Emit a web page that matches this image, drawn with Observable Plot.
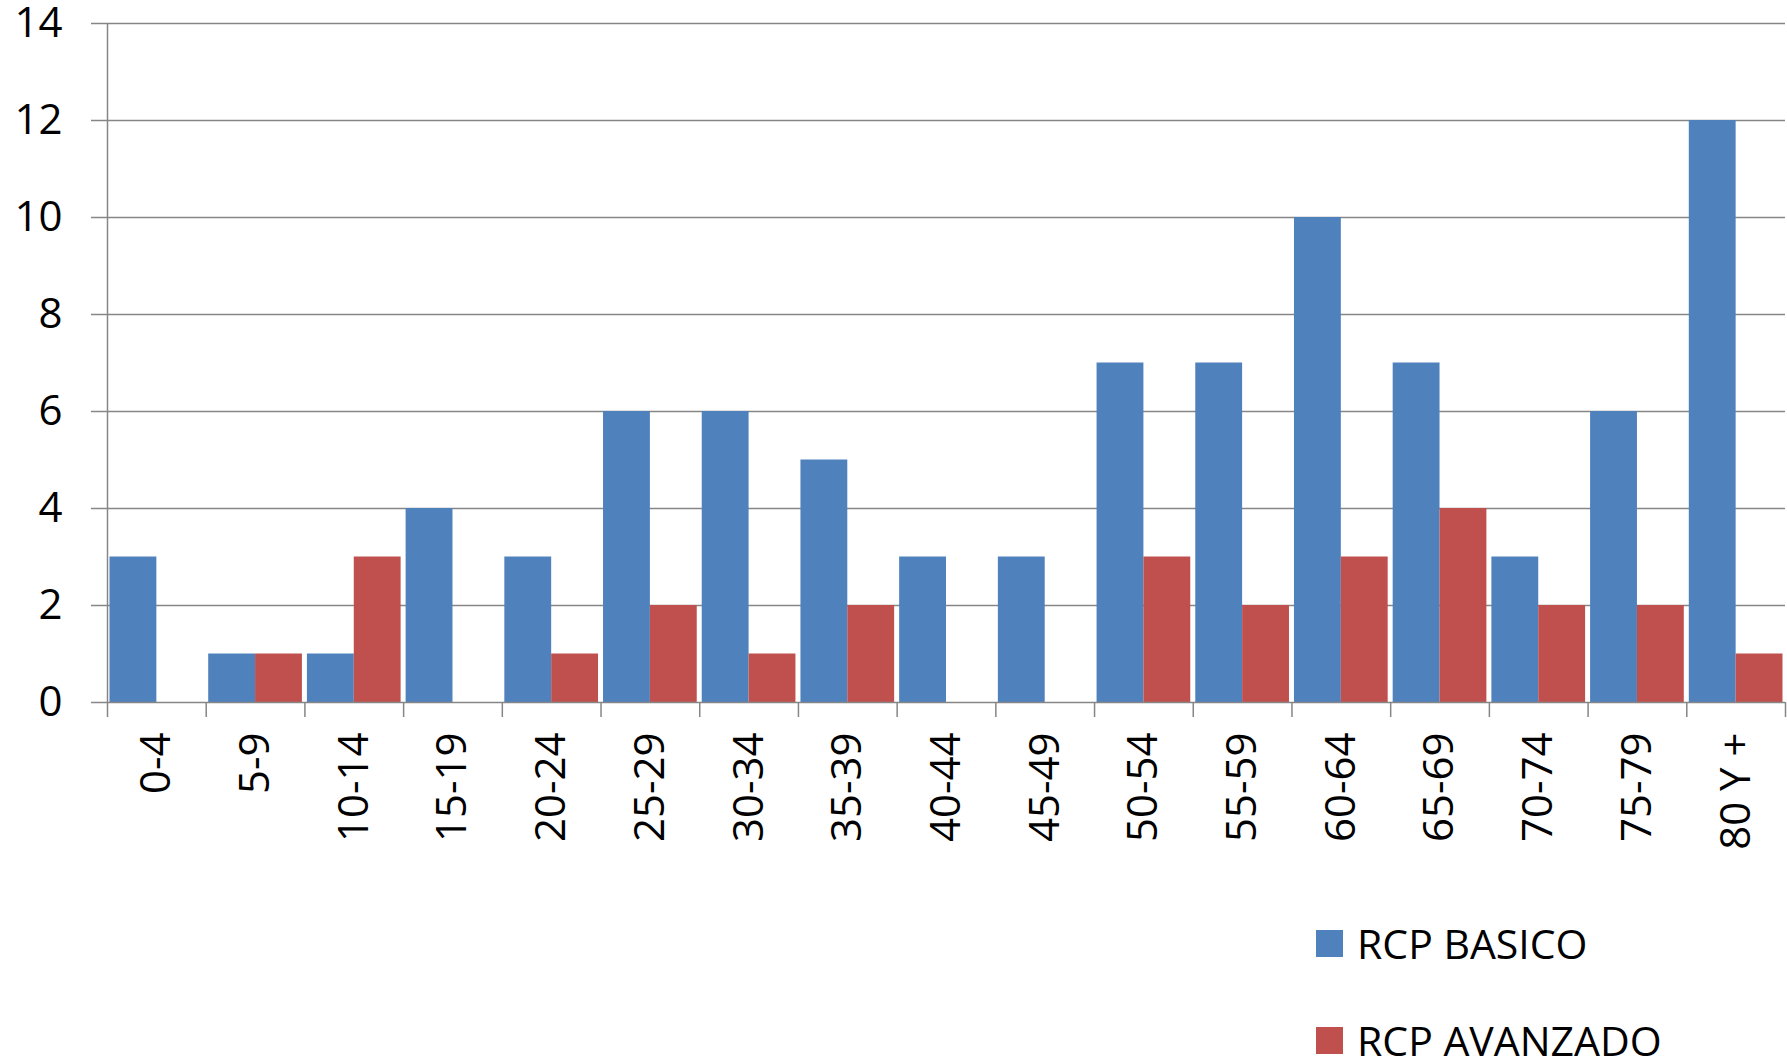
<!DOCTYPE html>
<html><head><meta charset="utf-8">
<script src="https://cdn.jsdelivr.net/npm/d3@7"></script>
<script src="https://cdn.jsdelivr.net/npm/@observablehq/plot@0.6"></script>
<style>
body{margin:0;background:#fff;font-family:"Open Sans",sans-serif;}
#wrap{position:relative;width:1787px;height:1058px;overflow:hidden;}
#chart{position:absolute;left:0;top:0;}
#chart svg{overflow:visible;}
.legend{position:absolute;left:1316px;height:54px;display:flex;align-items:center;font-size:41px;color:#000;white-space:nowrap;}
.sw{width:27px;height:27px;margin-right:14px;flex:none;}
</style></head><body>
<div id="wrap"><div id="chart"></div></div>
<script>
const categories = ["0-4","5-9","10-14","15-19","20-24","25-29","30-34","35-39","40-44","45-49","50-54","55-59","60-64","65-69","70-74","75-79","80 Y +"];
const basico   = [3,1,1,4,3,6,6,5,3,3,7,7,10,7,3,6,12];
const avanzado = [0,1,3,0,1,2,1,2,0,0,3,2,3,4,2,2,1];
const yTicks = [0,2,4,6,8,10,12,14];
const seriesNames = ["RCP BASICO","RCP AVANZADO"];
const seriesColors = ["#4F81BD","#C0504D"];

const rows = categories.map((c, i) => ({cat: c, i, basico: basico[i], avanzado: avanzado[i]}));
const gridColor = "#868686";

const chart = Plot.plot({
  width: 1787,
  height: 852,
  marginLeft: 107,
  marginRight: 2,
  marginTop: 23,
  marginBottom: 150,
  style: {fontFamily: "'Open Sans', sans-serif", fontSize: "42px", color: "#000", background: "#fff"},
  x: {type: "linear", domain: [0, categories.length], axis: null},
  y: {domain: [0, 14], axis: null},
  marks: [
    Plot.ruleY(yTicks.filter(d => d > 0), {stroke: gridColor, strokeWidth: 1.5}),
    Plot.rectY(rows, {x1: "i", x2: d => d.i + 0.5, y: "basico", fill: seriesColors[0], insetLeft: 2.5}),
    Plot.rectY(rows, {x1: d => d.i + 0.5, x2: d => d.i + 1, y: "avanzado", fill: seriesColors[1], insetRight: 2.5}),
    Plot.ruleY([0], {stroke: gridColor, strokeWidth: 1.5}),
    Plot.ruleX([0], {stroke: gridColor, strokeWidth: 1.5}),
    Plot.axisY({ticks: yTicks, tickSize: 16, tickPadding: 29, stroke: gridColor, strokeWidth: 1.5, fontSize: 42, label: null, fill: "#000"}),
    Plot.axisX({ticks: d3.range(0, categories.length + 1), tickSize: 15, tickFormat: () => "", stroke: gridColor, strokeWidth: 1.5, label: null}),
    Plot.axisX({ticks: categories.map((c, i) => i + 0.5), tickSize: 0, tickPadding: 30, tickRotate: -90,
      tickFormat: d => categories[Math.floor(d)], fontSize: 42, label: null, fill: "#000"})
  ]
});
document.getElementById("chart").appendChild(chart);

const wrap = document.getElementById("wrap");
seriesNames.forEach((name, k) => {
  const item = document.createElement("div");
  item.className = "legend";
  item.style.top = (916 + k * 97) + "px";
  const sw = document.createElement("div");
  sw.className = "sw";
  sw.style.background = seriesColors[k];
  const label = document.createElement("span");
  label.textContent = name;
  item.appendChild(sw);
  item.appendChild(label);
  wrap.appendChild(item);
});
</script>
</body></html>
